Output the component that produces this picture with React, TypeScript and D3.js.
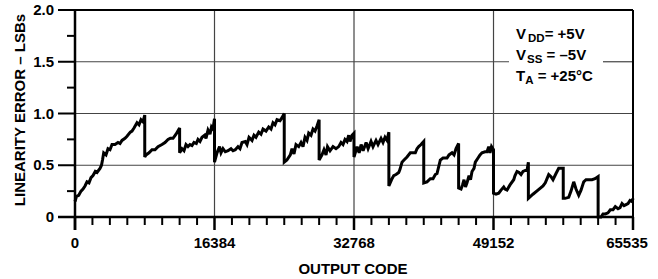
import React from "react";
import * as d3 from "d3";

// output code vs linearity error (LSBs)
const codes = [
  0, 176, 435, 705, 940, 1175, 1409, 1644, 1879, 2114, 2384, 2584, 2936, 3112, 3230, 3371, 3641, 3876, 4111, 4346,
  4698, 5051, 5285, 5520, 5873, 6107, 6495, 6695, 6930, 7282, 7517, 7752, 7987, 8191, 8192,
  8339, 8691, 9044, 9396, 9748, 10218, 10571, 10923, 11193, 11510, 11863, 12287, 12288,
  12567, 12802, 13037, 13271, 13506, 13741, 13976, 14246, 14446, 14681, 14916, 15233, 15386, 15620, 15855, 16031,
  16207, 16383, 16384,
  16678, 16977, 17148, 17383, 17653, 17970, 18322, 18557, 18827, 19144, 19379, 19614, 20001, 20201, 20436, 20789,
  21023, 21258, 21576, 21846, 22081, 22433, 22750, 23020, 23255, 23490, 23725, 24077, 24312, 24575, 24576,
  24886, 25288, 25486, 25721, 25956, 26273, 26544, 26778, 27013, 27248, 27448, 27718, 27953, 28188, 28423, 28671, 28672,
  29010, 29245, 29480, 29656, 29950, 30302, 30654, 30971, 31242, 31477, 31712, 31946, 32146, 32298, 32533, 32767, 32768,
  33134, 33369, 33604, 33839, 34190, 34425, 34765, 35000, 35353, 35588, 35940, 36175, 36410, 36644, 36863, 36864,
  37235, 37434, 37705, 38022, 38171, 38406, 38641, 38993, 39381, 39698, 39969, 40168, 40368, 40638, 40959, 40960,
  41342, 41730, 42047, 42317, 42517, 42904, 43222, 43691, 43926, 44279, 44514, 44749, 45055, 45056,
  45336, 45512, 45688, 45864, 46040, 46275, 46452, 46628, 46863, 47015, 47332, 47567, 47802, 48155, 48389, 48589,
  48742, 48918, 49151, 49152,
  49446, 49763, 50033, 50350, 50503, 50738, 51090, 51525, 51678, 51913, 52148, 52383, 52618, 52888, 53087, 53247, 53248,
  53786, 54373, 54966, 55236, 55636, 55906, 56141, 56493, 56810, 57343, 57344,
  57551, 57986, 58255, 58572, 58842, 59160, 59430, 59747, 60017, 60369, 60722, 61074, 61439, 61440,
  61779, 62014, 62284, 62601, 62871, 63188, 63458, 63775, 64010, 64245, 64480, 64715, 64950, 65185, 65420, 65535,
];

const lsb = [
  0.15, 0.2, 0.21, 0.25, 0.27, 0.3, 0.34, 0.33, 0.38, 0.4, 0.44, 0.43, 0.47, 0.5, 0.55, 0.62, 0.6, 0.66, 0.65, 0.7,
  0.7, 0.72, 0.71, 0.74, 0.76, 0.78, 0.82, 0.83, 0.86, 0.91, 0.89, 0.94, 0.92, 0.985, 0.58,
  0.6, 0.62, 0.65, 0.65, 0.68, 0.7, 0.72, 0.75, 0.76, 0.76, 0.8, 0.86, 0.62,
  0.66, 0.64, 0.7, 0.68, 0.7, 0.69, 0.72, 0.71, 0.75, 0.73, 0.77, 0.79, 0.76, 0.84, 0.8, 0.87,
  0.85, 0.95, 0.53,
  0.62, 0.68, 0.62, 0.66, 0.63, 0.64, 0.66, 0.64, 0.65, 0.68, 0.66, 0.72, 0.73, 0.7, 0.77, 0.74,
  0.79, 0.77, 0.82, 0.8, 0.85, 0.83, 0.87, 0.85, 0.91, 0.89, 0.94, 0.93, 0.96, 1.0, 0.53,
  0.55, 0.6, 0.66, 0.61, 0.7, 0.68, 0.72, 0.68, 0.77, 0.74, 0.81, 0.79, 0.85, 0.83, 0.88, 0.94, 0.55,
  0.6, 0.65, 0.6, 0.68, 0.64, 0.68, 0.66, 0.68, 0.72, 0.7, 0.75, 0.73, 0.79, 0.73, 0.79, 0.81, 0.58,
  0.68, 0.62, 0.7, 0.64, 0.72, 0.66, 0.73, 0.68, 0.74, 0.7, 0.76, 0.72, 0.77, 0.74, 0.82, 0.3,
  0.37, 0.4, 0.41, 0.43, 0.46, 0.53, 0.55, 0.58, 0.62, 0.62, 0.62, 0.66, 0.68, 0.7, 0.73, 0.33,
  0.34, 0.37, 0.37, 0.41, 0.42, 0.55, 0.57, 0.57, 0.6, 0.62, 0.6, 0.66, 0.71, 0.28,
  0.27, 0.31, 0.36, 0.29, 0.33, 0.4, 0.36, 0.44, 0.47, 0.53, 0.57, 0.6, 0.62, 0.63, 0.63, 0.68,
  0.62, 0.68, 0.65, 0.23,
  0.22, 0.23, 0.26, 0.29, 0.27, 0.26, 0.31, 0.36, 0.4, 0.44, 0.43, 0.41, 0.44, 0.45, 0.45, 0.53, 0.18,
  0.22, 0.26, 0.3, 0.33, 0.41, 0.39, 0.36, 0.42, 0.47, 0.47, 0.18,
  0.18, 0.19, 0.25, 0.34, 0.27, 0.21, 0.26, 0.34, 0.36, 0.36, 0.36, 0.37, 0.39, 0.0,
  0.0, 0.03, 0.03, 0.04, 0.07, 0.07, 0.1, 0.08, 0.09, 0.13, 0.11, 0.12, 0.13, 0.16, 0.15, 0.18,
];

const xTickLabels = [0, 16384, 32768, 49152, 65535];
const xGrid = [16384, 32768, 49152];
const yTickLabels = ["0", "0.5", "1.0", "1.5", "2.0"];
const yMajor = [0, 0.5, 1.0, 1.5, 2.0];
const yGrid = [0.5, 1.0, 1.5];

const W = 658, H = 279;
const left = 75, right = 633, top = 10, bottom = 217;
const font = "'Liberation Sans', Arial, Helvetica, sans-serif";

export default function App() {
  const x = d3.scaleLinear().domain([0, 65535]).range([left, right]);
  const y = d3.scaleLinear().domain([0, 2]).range([bottom, top]);

  const pts: [number, number][] = codes.map((c, i) => [c, lsb[i]]);
  const line = d3.line<[number, number]>().x(d => x(d[0])).y(d => y(d[1]));

  const xMinor = d3.range(0, 65536 + 1, 2048).map(v => Math.min(v, 65535));
  const yMinor = d3.range(0, 2.01, 0.25);

  return (
    <svg width={W} height={H} style={{ position: "absolute", left: 0, top: 0, background: "#fff" }}
      fontFamily={font} fontWeight="bold">
      {/* grid */}
      {xGrid.map(v => (
        <line key={"gx" + v} x1={x(v)} x2={x(v)} y1={top} y2={bottom} stroke="#444" strokeWidth={1.2} />
      ))}
      {yGrid.map(v =>
        v === 1.5 ? (
          <g key={"gy" + v}>
            <line x1={left} x2={509} y1={y(v)} y2={y(v)} stroke="#444" strokeWidth={1.2} />
            <line x1={603} x2={right} y1={y(v)} y2={y(v)} stroke="#444" strokeWidth={1.2} />
          </g>
        ) : (
          <line key={"gy" + v} x1={left} x2={right} y1={y(v)} y2={y(v)} stroke="#444" strokeWidth={1.2} />
        )
      )}

      {/* frame */}
      <line x1={left} x2={right} y1={top} y2={top} stroke="#000" strokeWidth={2} />
      <line x1={right} x2={right} y1={top} y2={bottom} stroke="#000" strokeWidth={2} />
      <line x1={left} x2={left} y1={top - 1} y2={bottom + 13} stroke="#000" strokeWidth={2.5} />
      <line x1={left - 17} x2={right + 1} y1={bottom} y2={bottom} stroke="#000" strokeWidth={2.5} />

      {/* x ticks */}
      {xMinor.map(v => {
        const major = v % 16384 === 0 || v === 65535;
        return (
          <line key={"xt" + v} x1={x(v)} x2={x(v)} y1={bottom} y2={bottom + (major ? 13 : 8)}
            stroke="#000" strokeWidth={major ? 2.5 : 2} />
        );
      })}
      {/* y ticks */}
      {yMinor.map(v => {
        const major = yMajor.some(m => Math.abs(m - v) < 1e-6);
        return (
          <line key={"yt" + v} x1={left - (major ? 17 : 8)} x2={left} y1={y(v)} y2={y(v)}
            stroke="#000" strokeWidth={2} />
        );
      })}

      {/* curve */}
      <path d={line(pts) || ""} fill="none" stroke="#000" strokeWidth={3} strokeLinejoin="miter" strokeMiterlimit={3} />

      {/* tick labels */}
      {xTickLabels.map(v => (
        <text key={"xl" + v} x={x(v) + (v === 65535 ? -6 : 0)} y={248} textAnchor="middle" fontSize={15}>
          {v}
        </text>
      ))}
      {yMajor.map((v, i) => (
        <text key={"yl" + v} x={54} y={y(v) + 5} textAnchor="end" fontSize={15}>
          {yTickLabels[i]}
        </text>
      ))}

      {/* axis titles */}
      <text x={353} y={274} textAnchor="middle" fontSize={15}>OUTPUT CODE</text>
      <text transform={`translate(25,110) rotate(-90)`} textAnchor="middle" fontSize={15}>
        LINEARITY ERROR – LSBs
      </text>

      {/* conditions */}
      <text x={516} y={39} fontSize={15}>
        V<tspan dx={2} dy={3} fontSize={11.5}>DD</tspan><tspan dy={-3} fontSize={15}>= +5V</tspan>
      </text>
      <text x={516} y={60} fontSize={15}>
        V<tspan dx={1} dy={3} fontSize={11.5}>SS</tspan><tspan dy={-3} fontSize={15}> = –5V</tspan>
      </text>
      <text x={516} y={81} fontSize={15}>
        T<tspan dy={3} fontSize={11.5}>A</tspan><tspan dy={-3} fontSize={15}> = +25°C</tspan>
      </text>
    </svg>
  );
}
